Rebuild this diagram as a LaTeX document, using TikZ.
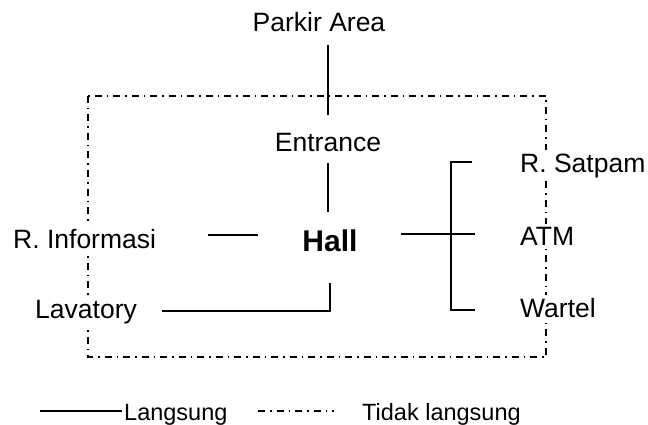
\documentclass[tikz,border=0pt]{standalone}
\usepackage{fontspec}
\setmainfont{Liberation Sans}
\begin{document}
\begin{tikzpicture}[x=1pt,y=-1pt,
  lbl/.style={inner sep=3pt, fill=white, font=\fontsize{26.5}{31}\selectfont},
  hall/.style={inner sep=3pt, fill=white, font=\fontsize{30}{35}\selectfont\bfseries},
  leg/.style={inner sep=0pt, font=\fontsize{23.5}{28}\selectfont},
  direct/.style={line width=1.3pt},
  indirect/.style={line width=1.1pt, dash pattern=on 7pt off 5pt on 1.5pt off 5pt}]
\useasboundingbox (0,0) rectangle (648,425);
% indirect boundary
\coordinate (bTL) at (88,96);
\coordinate (bBR) at (546,357);
\draw[indirect] (bTL) rectangle (bBR);
% labels
\node[lbl, anchor=base] (parkir) at (319,32) {Parkir Area};
\node[lbl, anchor=base] (entrance) at (328,152) {Entrance};
\node[hall, anchor=base] (hallnode) at (330,251) {Hall};
\node[lbl, anchor=base west] (satpam) at (517,172) {R. Satpam};
\node[lbl, anchor=base west] (info) at (10,248) {R. Informasi};
\node[lbl, anchor=base west] (atm) at (517,245) {ATM};
\node[lbl, anchor=base west] (lav) at (32,318) {Lavatory};
\node[lbl, anchor=base west] (wartel) at (517,317) {Wartel};
% connector points
\coordinate (p1) at (328,45);
\coordinate (p2) at (328,115);
\coordinate (e1) at (328,163);
\coordinate (e2) at (328,212);
\coordinate (i1) at (208,235);
\coordinate (i2) at (258,235);
\coordinate (h1) at (401,234);
\coordinate (h2) at (475,234);
\coordinate (l1) at (162,311);
\coordinate (l2) at (330,311);
\coordinate (l3) at (330,283);
\coordinate (s1) at (472,162);
\coordinate (s2) at (451,162);
\coordinate (w1) at (451,310);
\coordinate (w2) at (475,310);
\draw[direct] (p1) -- (p2);
\draw[direct] (e1) -- (e2);
\draw[direct] (i1) -- (i2);
\draw[direct] (h1) -- (h2);
\draw[direct] (l1) -- (l2) -- (l3);
\draw[direct] (s1) -- (s2) -- (w1) -- (w2);
% legend
\node[leg, anchor=base west] (langsung) at (124,420) {Langsung};
\node[leg, anchor=base west] (tidak) at (362,420) {Tidak langsung};
\coordinate (g1) at (40,411);
\coordinate (g2) at (122,411);
\coordinate (g3) at (258,411);
\coordinate (g4) at (334,411);
\draw[direct] (g1) -- (g2);
\draw[indirect] (g3) -- (g4);
\end{tikzpicture}
\end{document}
